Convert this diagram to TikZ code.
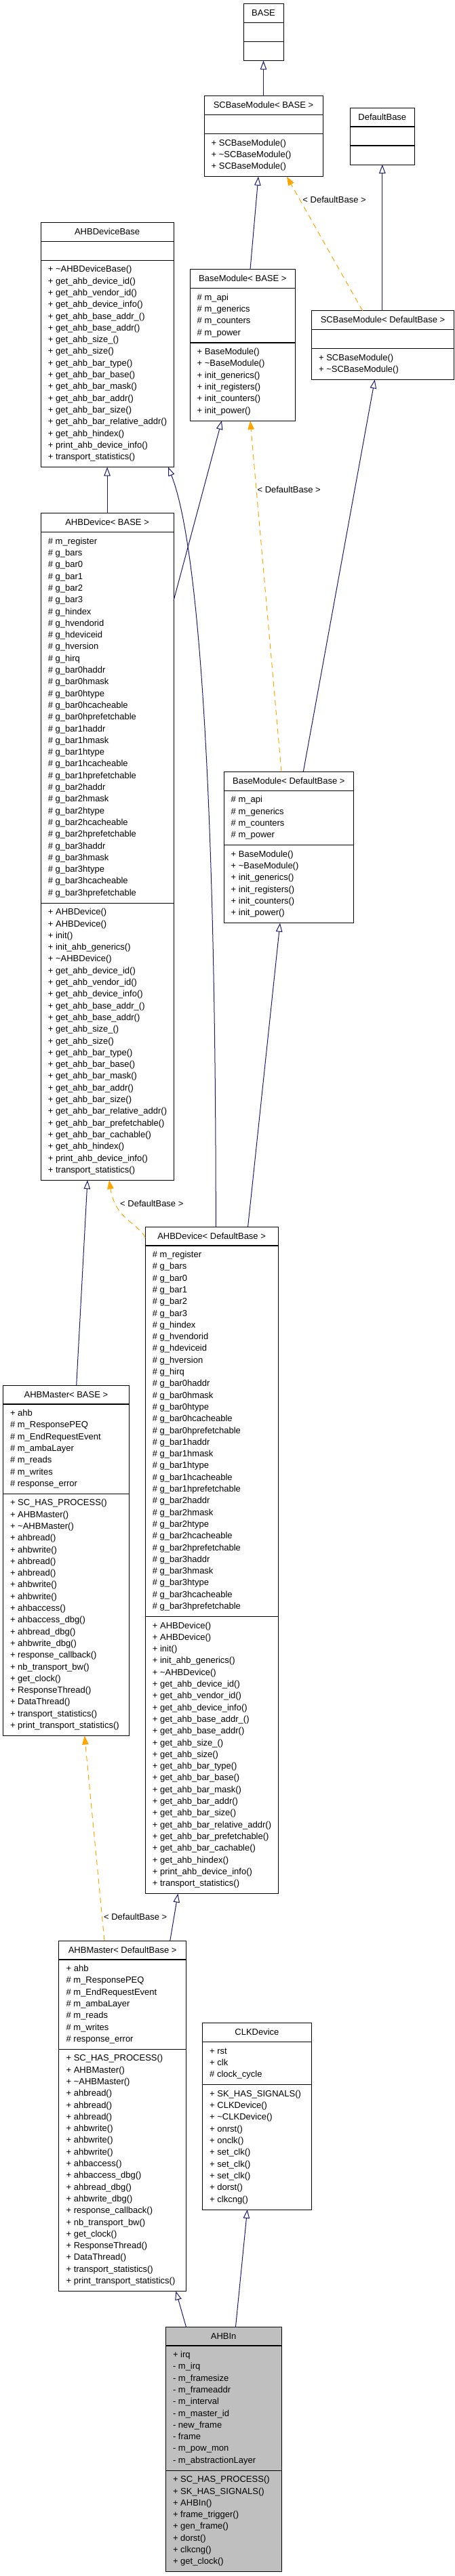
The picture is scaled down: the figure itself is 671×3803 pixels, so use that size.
\documentclass[tikz,border=0pt]{standalone}
\usepackage{fontspec}
\setmainfont{Liberation Sans}
\usetikzlibrary{arrows.meta}
\definecolor{navy}{HTML}{191970}
\definecolor{dorange}{HTML}{FFA500}
\definecolor{selgray}{HTML}{BFBFBF}
\newcommand\dfont{\fontsize{13pt}{15pt}\selectfont}
\tikzset{
  boxfill/.style={fill=white},
  classbox/.style={draw=black, line width=1pt, boxfill, inner sep=0pt, outer sep=0pt},
  sepline/.style={draw=black, line width=1.3pt},
  titletxt/.style={font=\dfont, inner sep=0pt},
  itemtxt/.style={font=\dfont, inner sep=0pt},
  lbl/.style={font=\dfont, inner sep=0pt, text=black},
  inh/.style={draw=navy, line width=1pt, -{Triangle[open, length=13pt, width=9.5pt]}},
  tmpl/.style={draw=dorange, line width=1pt, dash pattern=on 8pt off 6pt, -{Triangle[length=13pt, width=9.5pt]}}
}
% #1 name #2 x #3 top #4 width #5 n attrs #6 n methods #7 title #8 attrs #9 methods
\newcommand\umlclass[9]{%
  \pgfmathsetmacro\ha{(#5==0) ? 28 : #5*17.3+11.2}%
  \pgfmathsetmacro\hm{(#6==0) ? 28 : #6*17.3+11.2}%
  \pgfmathsetmacro\htot{28+\ha+\hm}%
  \node[classbox, minimum width=#4pt, minimum height=\htot pt, anchor=north west] (#1) at (#2,#3) {};
  \node[titletxt, anchor=base] (#1-title) at (#2+#4/2, #3+18.2) {#7};
  \draw[sepline] (#2,#3+28) -- ++(#4,0);
  \draw[sepline] (#2,#3+28+\ha) -- ++(#4,0);
  \foreach \itm [count=\idx from 0] in {#8} {\node[itemtxt, anchor=base west] at (#2+10.5, #3+28+17.5+\idx*17.3) {\itm};}
  \foreach \itm [count=\idx from 0] in {#9} {\node[itemtxt, anchor=base west] at (#2+10.5, #3+28+\ha+17.5+\idx*17.3) {\itm};}
}
\AtBeginDocument{\catcode`\_=12 }
\begin{document}
\begin{tikzpicture}[x=1pt, y=-1pt]
\useasboundingbox (0,0) rectangle (671,3803);

\umlclass{base}{359}{5.7}{59}{0}{0}{BASE}{}{}
\umlclass{scbm}{301}{141.7}{175}{0}{3}{SCBaseModule< BASE >}{}{+ SCBaseModule(), + \textasciitilde SCBaseModule(), + SCBaseModule()}
\umlclass{dflt}{516}{159}{95.6}{0}{0}{DefaultBase}{}{}
\umlclass{scbmd}{459.4}{458.7}{210.3}{0}{2}{SCBaseModule< DefaultBase >}{}{+ SCBaseModule(), + \textasciitilde SCBaseModule()}
\umlclass{ahbdb}{60.2}{328.3}{195.8}{0}{17}{AHBDeviceBase}{}{+ \textasciitilde AHBDeviceBase(), + get_ahb_device_id(), + get_ahb_vendor_id(), + get_ahb_device_info(), + get_ahb_base_addr_(), + get_ahb_base_addr(), + get_ahb_size_(), + get_ahb_size(), + get_ahb_bar_type(), + get_ahb_bar_base(), + get_ahb_bar_mask(), + get_ahb_bar_addr(), + get_ahb_bar_size(), + get_ahb_bar_relative_addr(), + get_ahb_hindex(), + print_ahb_device_info(), + transport_statistics()}
\umlclass{bmb}{280}{397.7}{155.7}{4}{6}{BaseModule< BASE >}{\# m_api, \# m_generics, \# m_counters, \# m_power}{+ BaseModule(), + \textasciitilde BaseModule(), + init_generics(), + init_registers(), + init_counters(), + init_power()}
\umlclass{ahbdB}{60.2}{757.7}{195.8}{31}{23}{AHBDevice< BASE >}{\# m_register, \# g_bars, \# g_bar0, \# g_bar1, \# g_bar2, \# g_bar3, \# g_hindex, \# g_hvendorid, \# g_hdeviceid, \# g_hversion, \# g_hirq, \# g_bar0haddr, \# g_bar0hmask, \# g_bar0htype, \# g_bar0hcacheable, \# g_bar0hprefetchable, \# g_bar1haddr, \# g_bar1hmask, \# g_bar1htype, \# g_bar1hcacheable, \# g_bar1hprefetchable, \# g_bar2haddr, \# g_bar2hmask, \# g_bar2htype, \# g_bar2hcacheable, \# g_bar2hprefetchable, \# g_bar3haddr, \# g_bar3hmask, \# g_bar3htype, \# g_bar3hcacheable, \# g_bar3hprefetchable}{+ AHBDevice(), + AHBDevice(), + init(), + init_ahb_generics(), + \textasciitilde AHBDevice(), + get_ahb_device_id(), + get_ahb_vendor_id(), + get_ahb_device_info(), + get_ahb_base_addr_(), + get_ahb_base_addr(), + get_ahb_size_(), + get_ahb_size(), + get_ahb_bar_type(), + get_ahb_bar_base(), + get_ahb_bar_mask(), + get_ahb_bar_addr(), + get_ahb_bar_size(), + get_ahb_bar_relative_addr(), + get_ahb_bar_prefetchable(), + get_ahb_bar_cachable(), + get_ahb_hindex(), + print_ahb_device_info(), + transport_statistics()}
\umlclass{bmd}{330}{1139.3}{191.7}{4}{6}{BaseModule< DefaultBase >}{\# m_api, \# m_generics, \# m_counters, \# m_power}{+ BaseModule(), + \textasciitilde BaseModule(), + init_generics(), + init_registers(), + init_counters(), + init_power()}
\umlclass{ahbdD}{214.2}{1811}{195.8}{31}{23}{AHBDevice< DefaultBase >}{\# m_register, \# g_bars, \# g_bar0, \# g_bar1, \# g_bar2, \# g_bar3, \# g_hindex, \# g_hvendorid, \# g_hdeviceid, \# g_hversion, \# g_hirq, \# g_bar0haddr, \# g_bar0hmask, \# g_bar0htype, \# g_bar0hcacheable, \# g_bar0hprefetchable, \# g_bar1haddr, \# g_bar1hmask, \# g_bar1htype, \# g_bar1hcacheable, \# g_bar1hprefetchable, \# g_bar2haddr, \# g_bar2hmask, \# g_bar2htype, \# g_bar2hcacheable, \# g_bar2hprefetchable, \# g_bar3haddr, \# g_bar3hmask, \# g_bar3htype, \# g_bar3hcacheable, \# g_bar3hprefetchable}{+ AHBDevice(), + AHBDevice(), + init(), + init_ahb_generics(), + \textasciitilde AHBDevice(), + get_ahb_device_id(), + get_ahb_vendor_id(), + get_ahb_device_info(), + get_ahb_base_addr_(), + get_ahb_base_addr(), + get_ahb_size_(), + get_ahb_size(), + get_ahb_bar_type(), + get_ahb_bar_base(), + get_ahb_bar_mask(), + get_ahb_bar_addr(), + get_ahb_bar_size(), + get_ahb_bar_relative_addr(), + get_ahb_bar_prefetchable(), + get_ahb_bar_cachable(), + get_ahb_hindex(), + print_ahb_device_info(), + transport_statistics()}
\umlclass{ahbmB}{4.3}{2045}{186.2}{7}{20}{AHBMaster< BASE >}{+ ahb, \# m_ResponsePEQ, \# m_EndRequestEvent, \# m_ambaLayer, \# m_reads, \# m_writes, \# response_error}{+ SC_HAS_PROCESS(), + AHBMaster(), + \textasciitilde AHBMaster(), + ahbread(), + ahbwrite(), + ahbread(), + ahbread(), + ahbwrite(), + ahbwrite(), + ahbaccess(), + ahbaccess_dbg(), + ahbread_dbg(), + ahbwrite_dbg(), + response_callback(), + nb_transport_bw(), + get_clock(), + ResponseThread(), + DataThread(), + transport_statistics(), + print_transport_statistics()}
\umlclass{ahbmD}{86.9}{2865}{187.5}{7}{20}{AHBMaster< DefaultBase >}{+ ahb, \# m_ResponsePEQ, \# m_EndRequestEvent, \# m_ambaLayer, \# m_reads, \# m_writes, \# response_error}{+ SC_HAS_PROCESS(), + AHBMaster(), + \textasciitilde AHBMaster(), + ahbread(), + ahbread(), + ahbread(), + ahbwrite(), + ahbwrite(), + ahbwrite(), + ahbaccess(), + ahbaccess_dbg(), + ahbread_dbg(), + ahbwrite_dbg(), + response_callback(), + nb_transport_bw(), + get_clock(), + ResponseThread(), + DataThread(), + transport_statistics(), + print_transport_statistics()}
\umlclass{clk}{298.5}{2986.7}{160.9}{3}{10}{CLKDevice}{+ rst, + clk, \# clock_cycle}{+ SK_HAS_SIGNALS(), + CLKDevice(), + \textasciitilde CLKDevice(), + onrst(), + onclk(), + set_clk(), + set_clk(), + set_clk(), + dorst(), + clkcng()}
\tikzset{boxfill/.style={fill=selgray}}
\umlclass{ahbin}{244.3}{3435}{170.7}{10}{8}{AHBIn}{+ irq, - m_irq, - m_framesize, - m_frameaddr, - m_interval, - m_master_id, - new_frame, - frame, - m_pow_mon, - m_abstractionLayer}{+ SC_HAS_PROCESS(), + SK_HAS_SIGNALS(), + AHBIn(), + frame_trigger(), + gen_frame(), + dorst(), + clkcng(), + get_clock()}

% connectors
\draw[inh] (base.south |- scbm.north) -- (base.south);
\draw[inh] (369,0 |- bmb.north) -- (381,0 |- scbm.south);
\draw[tmpl] (534.6,0 |- scbmd.north) -- node[lbl, pos=0.83, right=4pt] (l1) {< DefaultBase >} (423,0 |- scbm.south);
\draw[inh] (dflt.south |- scbmd.north) -- (dflt.south);
\draw[inh] (ahbdb.south |- ahbdB.north) -- (ahbdb.south);
\draw[inh] (ahbdB.north east |- 0,886.7) -- (327,0 |- bmb.south);
\draw[inh] (318.3,0 |- ahbdD.north) .. controls (318.3,1100) and (288,790) .. (248,0 |- ahbdb.south);
\draw[inh] (365.6,0 |- ahbdD.north) -- (413,0 |- bmd.south);
\draw[inh] (447.3,0 |- bmd.north) -- (552.7,0 |- scbmd.south);
\draw[tmpl] (415,0 |- bmd.north) -- node[lbl, pos=0.803, right=1pt] (l2) {< DefaultBase >} (369,0 |- bmb.south);
\draw[inh] (112.7,0 |- ahbmB.north) -- (129,0 |- ahbdB.south);
\draw[tmpl] (ahbdD.west |- 0,1827) .. controls (203,1805) and (170,1800) .. (161,0 |- ahbdB.south);
\node[lbl, anchor=west] (l3) at (177,1776.7) {< DefaultBase >};
\draw[tmpl] (154,0 |- ahbmD.north) -- node[lbl, pos=0.116, right=2pt] (l4) {< DefaultBase >} (124.7,0 |- ahbmB.south);
\draw[inh] (250.8,0 |- ahbmD.north) -- (262.4,0 |- ahbdD.south);
\draw[inh] (274.4,0 |- ahbin.north) -- (259.4,0 |- ahbmD.south);
\draw[inh] (347.5,0 |- ahbin.north) -- (364.7,0 |- clk.south);
\end{tikzpicture}
\end{document}
